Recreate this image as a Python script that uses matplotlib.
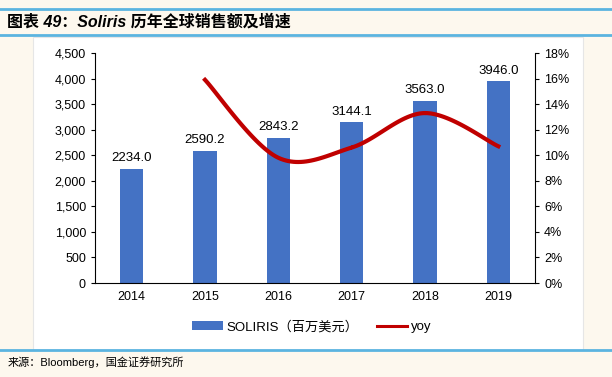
import numpy as np
import matplotlib.pyplot as plt
from matplotlib.patches import Rectangle
from matplotlib.lines import Line2D

plt.rcParams['font.family'] = ['Liberation Sans', 'Noto Sans CJK SC', 'DejaVu Sans']

# 数据
years = ['2014', '2015', '2016', '2017', '2018', '2019']
sales = [2234.0, 2590.2, 2843.2, 3144.1, 3563.0, 3946.0]
yoy = [None, 15.9, 9.8, 10.6, 13.3, 10.7]


def catmull_rom(xs, ys, n=30):
    # 平滑曲线 (类似 Excel 的平滑线)
    pts = np.column_stack([xs, ys])
    pts = np.vstack([pts[0], pts, pts[-1]])
    out = []
    for i in range(1, len(pts) - 2):
        p0, p1, p2, p3 = pts[i - 1], pts[i], pts[i + 1], pts[i + 2]
        t = np.linspace(0, 1, n)[:, None]
        seg = 0.5 * ((2 * p1) + (-p0 + p2) * t + (2 * p0 - 5 * p1 + 4 * p2 - p3) * t ** 2
                     + (-p0 + 3 * p1 - 3 * p2 + p3) * t ** 3)
        out.append(seg)
    out = np.vstack(out)
    return out[:, 0], out[:, 1]


fig = plt.figure(figsize=(6.12, 3.77), dpi=100)
fig.patch.set_facecolor('#fdf8ee')

# 白色面板和蓝色分隔线
panel = Rectangle((33 / 612, 1 - 350 / 377), 550 / 612, 313 / 377,
                  transform=fig.transFigure, facecolor='white',
                  edgecolor='#e6e6e6', lw=0.8, zorder=-10)
fig.add_artist(panel)
for yy in [9, 35, 350]:
    fig.add_artist(Line2D([0, 1], [1 - yy / 377] * 2, color='#5bb4e0', lw=2,
                          transform=fig.transFigure, zorder=-5))

fig.text(0.012, 1 - 22 / 377, '图表 49：Soliris 历年全球销售额及增速', fontsize=11.5,
         fontweight='bold', style='italic', va='center', ha='left',
         family=['Liberation Sans', 'Noto Sans CJK SC'])
fig.text(0.012, 1 - 362 / 377, '来源：Bloomberg，国金证券研究所', fontsize=8,
         va='center', ha='left', family=['Liberation Sans', 'Noto Sans CJK SC'])

ax = fig.add_axes([95 / 612, 1 - 283 / 377, 440 / 612, 230 / 377])
ax.set_facecolor('none')
x = np.arange(len(years))
bars = ax.bar(x, sales, width=0.32, color='#4472c4', zorder=2,
              label='SOLIRIS（百万美元）')
for xi, v in zip(x, sales):
    ax.text(xi, v + 90, f'{v:.1f}', ha='center', va='bottom', fontsize=9.5)

ax.set_ylim(0, 4500)
ax.set_yticks(np.arange(0, 4501, 500))
ax.set_yticklabels([f'{v:,}' for v in range(0, 4501, 500)])
ax.set_xlim(-0.5, len(years) - 0.5)
ax.set_xticks(x)
ax.set_xticklabels(years)
for s in ['top', 'right']:
    ax.spines[s].set_visible(False)
ax.tick_params(axis='both', labelsize=9, length=3)
ax.tick_params(axis='x', length=0, pad=6)

ax2 = ax.twinx()
xs = x[1:]
ys = yoy[1:]
cx, cy = catmull_rom(xs, ys)
line, = ax2.plot(cx, cy, color='#c00000', lw=3, label='yoy', zorder=3)
ax2.set_ylim(0, 18)
ax2.set_yticks(np.arange(0, 19, 2))
ax2.set_yticklabels([f'{v}%' for v in range(0, 19, 2)])
for s in ['top', 'left', 'bottom']:
    ax2.spines[s].set_visible(False)
ax2.tick_params(axis='y', labelsize=9, length=3)

leg_line = Line2D([], [], color='#c00000', lw=2.2)
fig.legend([bars, leg_line], ['SOLIRIS（百万美元）', 'yoy'], loc='center',
           bbox_to_anchor=(0.51, 1 - 327 / 377), ncol=2, frameon=False,
           handlelength=2.3, handletextpad=0.3, columnspacing=1.4,
           prop={'family': ['Liberation Sans', 'Noto Sans CJK SC'], 'size': 9.5})

fig.savefig('out.png', dpi=100, facecolor=fig.get_facecolor())
